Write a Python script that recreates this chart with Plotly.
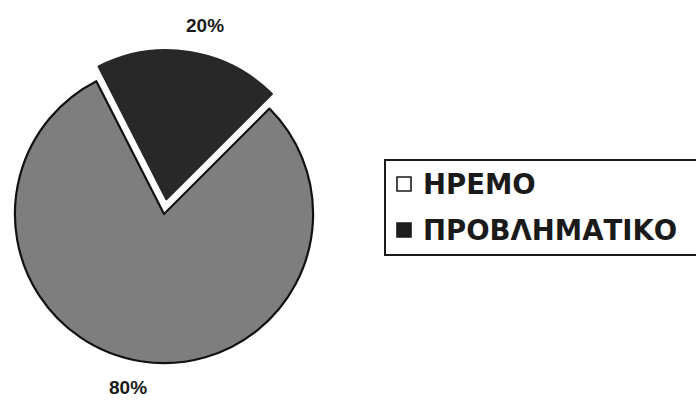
import plotly.graph_objects as go

# Share of responses per category
categories = ["ΗΡΕΜΟ", "ΠΡΟΒΛΗΜΑΤΙΚΟ"]
values = [80, 20]

slice_colors = ["#7e7e7e", "#282828"]
legend_colors = ["#ffffff", "#1e1e1e"]
pulls = [0, 0.1]

W, H = 696, 400
total = sum(values)

fig = go.Figure()

fig.add_trace(go.Pie(
    labels=categories,
    values=values,
    sort=False,
    direction="clockwise",
    rotation=45,
    pull=pulls,
    marker=dict(colors=slice_colors, line=dict(color=["#111111", "#282828"], width=2.2)),
    textinfo="none",
    showlegend=False,
    hoverinfo="label+percent",
    domain=dict(x=[0.0, 0.4713], y=[0.055, 0.875]),
))

# Percentage labels placed outside the slices
label_pos = [(128, 387), (205, 26)]
annotations = []
for v, (px, py) in zip(values, label_pos):
    annotations.append(dict(text=f"{v / total:.0%}", xref="paper", yref="paper",
                            x=px / W, y=1 - py / H, xanchor="center", yanchor="middle",
                            showarrow=False,
                            font=dict(family="Liberation Sans, Arial, sans-serif", size=19,
                                      color="#1a1a1a", weight="bold")))

# Boxed legend on the right
shapes = [dict(type="rect", xref="paper", yref="paper",
               x0=385 / W, x1=1.01, y0=1 - 255 / H, y1=1 - 160 / H,
               line=dict(color="#1a1a1a", width=2), fillcolor="rgba(0,0,0,0)")]
row_y = [184, 230]
for name, col, yc in zip(categories, legend_colors, row_y):
    shapes.append(dict(type="rect", xref="paper", yref="paper",
                       x0=397 / W, x1=411 / W, y0=1 - (yc + 7) / H, y1=1 - (yc - 7) / H,
                       line=dict(color="#1a1a1a", width=1.6), fillcolor=col))
    annotations.append(dict(text=name, xref="paper", yref="paper",
                            x=421 / W, y=1 - yc / H, xanchor="left", yanchor="middle",
                            showarrow=False,
                            font=dict(family="DejaVu Sans, sans-serif", size=27.5,
                                      color="#1a1a1a", weight="bold")))

fig.update_layout(
    width=W, height=H,
    margin=dict(l=0, r=0, t=0, b=0),
    paper_bgcolor="white",
    plot_bgcolor="white",
    shapes=shapes,
    annotations=annotations,
)

fig.write_html("out.html")
